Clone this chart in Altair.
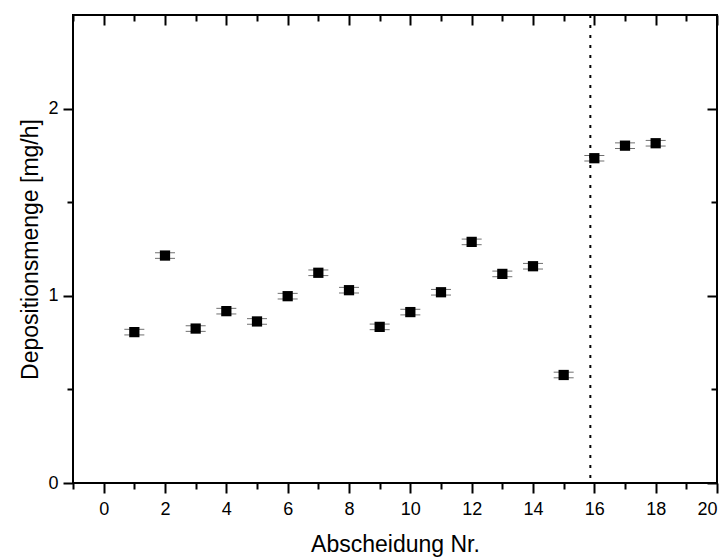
import altair as alt
import pandas as pd

# ---- data ----
run_no = [1, 2, 3, 4, 5, 6, 7, 8, 9, 10, 11, 12, 13, 14, 15, 16, 17, 18]
deposition = [0.806, 1.215, 0.825, 0.918, 0.863, 0.998, 1.123, 1.030, 0.834,
              0.913, 1.019, 1.288, 1.117, 1.158, 0.577, 1.735, 1.802, 1.815]
error = [0.015, 0.015, 0.015, 0.015, 0.015, 0.015, 0.015, 0.015, 0.015,
         0.015, 0.015, 0.015, 0.015, 0.015, 0.015, 0.015, 0.015, 0.015]
marker_x = [15.87]

x_major = [0, 2, 4, 6, 8, 10, 12, 14, 16, 18, 20]
x_minor = [-1, 1, 3, 5, 7, 9, 11, 13, 15, 17, 19]
y_major = [0, 1, 2]
y_minor = [0.5, 1.5]

df = pd.DataFrame({"x": run_no, "y": deposition, "err": error})
df["lo"] = df["y"] - df["err"]
df["hi"] = df["y"] + df["err"]
vdf = pd.DataFrame({"x": marker_x})

FONT = "Liberation Sans"
xs = alt.Scale(domain=[-1, 20], nice=False, zero=False)
ys = alt.Scale(domain=[0, 2.5], nice=False, zero=False)

common = dict(grid=False, domain=False, tickColor="black", tickWidth=2,
              labelFont=FONT, labelColor="black", titleFont=FONT,
              titleColor="black", titleFontWeight="normal")


def ax(**kw):
    d = dict(common)
    d.update(kw)
    return alt.Axis(**d)


# vertical error segments (hidden behind squares): top minor / right minor axes
rule = alt.Chart(df).mark_rule(color="black", strokeWidth=1).encode(
    x=alt.X("x:Q", scale=xs, axis=ax(orient="top", values=x_minor, tickSize=6,
                                      offset=-6, labels=False, title=None)),
    y=alt.Y("lo:Q", scale=ys, axis=ax(orient="right", values=y_minor, tickSize=6,
                                       offset=-6, labels=False, title=None)),
    y2="hi:Q",
)

# upper caps: bottom minor / left minor axes
cap_hi = alt.Chart(df).mark_tick(orient="horizontal", size=20, thickness=1,
                                 color="#333333").encode(
    x=alt.X("x:Q", scale=xs, axis=ax(orient="bottom", values=x_minor, tickSize=6,
                                      labels=False, title=None)),
    y=alt.Y("hi:Q", scale=ys, axis=ax(orient="left", values=y_minor, tickSize=6,
                                       labels=False, title=None)),
)

# lower caps: top major / right major axes (inward)
cap_lo = alt.Chart(df).mark_tick(orient="horizontal", size=20, thickness=1,
                                 color="#333333").encode(
    x=alt.X("x:Q", scale=xs, axis=ax(orient="top", values=x_major, tickSize=10,
                                      offset=-10, labels=False, title=None)),
    y=alt.Y("lo:Q", scale=ys, axis=ax(orient="right", values=y_major, tickSize=10,
                                       offset=-10, labels=False, title=None)),
)

# squares: main bottom / left axes with labels and titles
squares = alt.Chart(df).mark_square(size=105, color="black", opacity=1).encode(
    x=alt.X("x:Q", scale=xs,
            axis=ax(orient="bottom", values=x_major, tickSize=10, labelFontSize=18,
                    labelPadding=7, title="Abscheidung Nr.", titleFontSize=23,
                    titleBaseline="alphabetic", titleY=68)),
    y=alt.Y("y:Q", scale=ys,
            axis=ax(orient="left", values=y_major, tickSize=10, labelFontSize=18,
                    labelPadding=5, title="Depositionsmenge [mg/h]",
                    titleFontSize=23, titleBaseline="alphabetic", titleX=-36,
                    titleAngle=-90)),
)

vline = alt.Chart(vdf).mark_rule(color="black", strokeWidth=2,
                                 strokeDash=[3, 7]).encode(
    x=alt.X("x:Q", scale=xs, axis=None),
)

chart = alt.layer(rule, cap_hi, cap_lo, squares, vline).resolve_axis(
    x="independent", y="independent"
).properties(
    width=644, height=468,
    padding={"left": 73, "top": 15, "right": 11, "bottom": 75},
    autosize=alt.AutoSizeParams(type="none"),
    background="white",
).configure_view(stroke="black", strokeWidth=2)

chart.save("out.html", embed_options={"renderer": "svg", "actions": False})
